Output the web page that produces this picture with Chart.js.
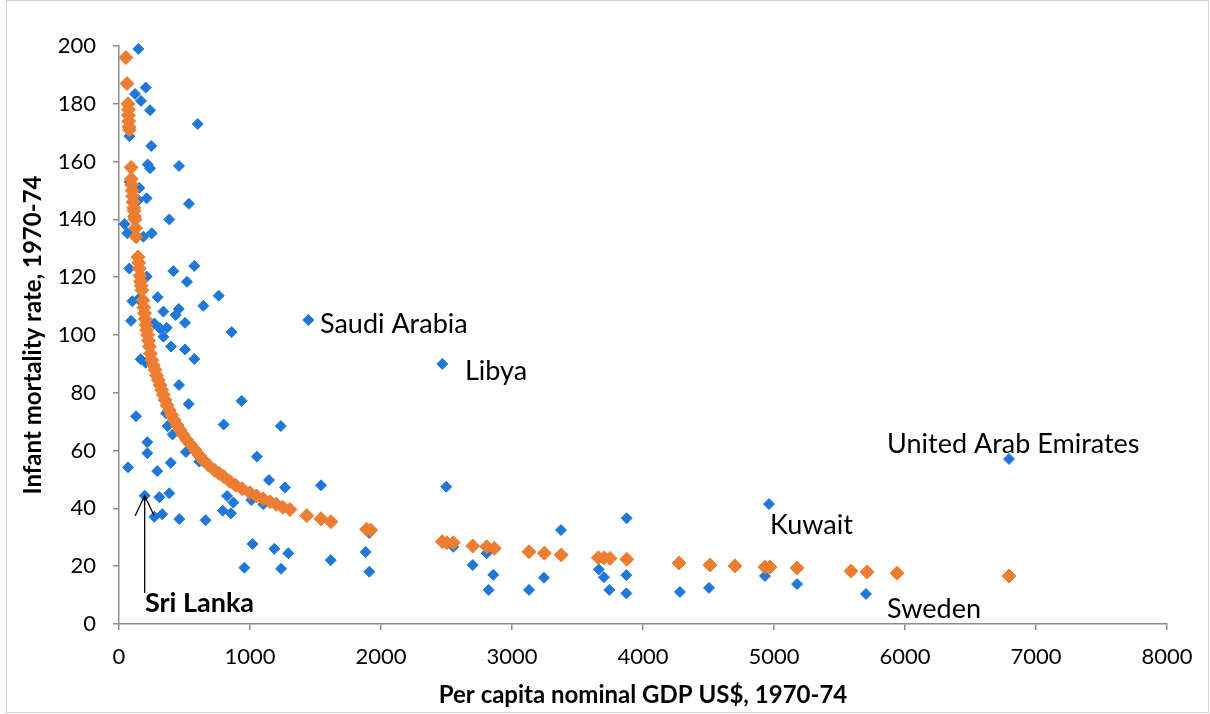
<!DOCTYPE html>
<html>
<head>
<meta charset="utf-8">
<script src="https://cdn.jsdelivr.net/npm/chart.js@4/dist/chart.umd.min.js"></script>
<style>
  html, body { margin: 0; padding: 0; background: #fff; }
  #wrap { width: 1210px; height: 714px; position: relative; }
</style>
</head>
<body>
<div id="wrap"><canvas id="c" width="1210" height="714"></canvas></div>
<script>
// Country observations: per capita GDP (US$) and infant mortality, 1970-74
const gdpCountries = [
  148, 204, 122, 168, 237, 601, 79, 246, 219, 237, 458, 155, 80, 114, 148, 211, 534, 384, 43, 64,
  104, 186, 250, 79, 211, 415, 575, 519, 295, 102, 148, 761, 644, 339, 456, 433, 92, 504, 270, 313,
  364, 860, 1445, 339, 397, 504, 575, 165, 204, 458, 936, 532, 130, 359, 371, 409, 799, 1235, 216, 216,
  511, 395, 69, 292, 613, 1053, 1145, 196, 308, 384, 270, 330, 460, 661, 825, 873, 792, 855, 1010, 1102,
  1267, 1020, 1186, 1292, 957, 1237, 2468, 1542, 2498, 1616, 1883, 1911, 1911, 2552, 2700, 2807, 2857, 2822, 3130, 3244,
  3374, 3662, 3702, 3743, 3875, 3873, 3873, 4282, 4504, 4962, 4931, 5176, 5702, 6794
];
const mortalityCountries = [
  199, 185.6, 183.4, 181, 177.8, 173, 168.8, 165.4, 159, 157.7, 158.5, 150.9, 153, 147.5, 146.7, 147.3, 145.4, 140, 138.4, 135.2,
  135.7, 134, 135.2, 123, 120.2, 122.1, 123.9, 118.4, 113.1, 111.7, 112.4, 113.6, 110.1, 108.1, 109, 106.9, 104.9, 104.2, 104, 102.3,
  102.5, 101, 105.2, 99.4, 96, 95, 91.7, 91.6, 90.4, 82.7, 77.2, 76.1, 71.9, 72.9, 68.5, 65.6, 69, 68.5, 62.9, 59.1,
  59.5, 55.8, 54.2, 52.9, 56.2, 57.9, 49.8, 44.4, 43.9, 45.2, 37.1, 38, 36.3, 35.9, 44.3, 42, 39.2, 38.3, 42.9, 41.4,
  47.2, 27.7, 26, 24.5, 19.5, 19.1, 90, 48, 47.5, 22.1, 24.9, 18.1, 31.5, 26.7, 20.4, 24.5, 17, 11.8, 11.8, 16,
  32.5, 18.9, 16.2, 11.8, 36.6, 16.9, 10.6, 11.1, 12.5, 41.5, 16.6, 13.8, 10.4, 57.1
];

// Fitted infant mortality at each GDP level
const gdpFitted = [
  53, 61, 69, 71, 72, 74, 76, 79, 92, 94, 97, 100, 104, 108, 112, 115, 118, 122, 126, 130,
  145, 150, 155, 160, 165, 170, 175, 183, 190, 195, 200, 206, 211, 218, 225, 231, 240, 250, 262, 275,
  287, 300, 313, 326, 338, 351, 367, 384, 402, 420, 443, 466, 491, 517, 548, 580, 612, 644, 682,
  730, 765, 800, 847, 890, 940, 1000, 1050, 1100, 1153, 1200, 1250, 1305,
  1433, 1542, 1618, 1890, 1921, 2468, 2502, 2552, 2700, 2807, 2865, 3130, 3247, 3376,
  3659, 3702, 3748, 3876, 4275, 4511, 4702, 4931, 4969, 5176, 5588, 5710, 5939, 6794
];
const mortalityFitted = [
  196, 187, 180, 178, 176, 174, 172, 171, 158, 154, 152, 150, 148, 146, 144, 143, 141, 140, 137, 134,
  127, 125, 123, 120.5, 118.5, 117, 115.5, 112, 109.5, 107.5, 105.5, 103.5, 101.7, 100, 98, 96, 93.5, 91.3, 89.5, 88,
  86, 84.4, 82.7, 81, 79.3, 77.5, 75.7, 74, 72.3, 70.6, 68.8, 67.1, 65.4, 63.7, 62, 60.2, 58.4, 56.7, 55,
  53.2, 52.1, 51, 49.3, 48, 46.8, 45.4, 44.3, 43.3, 42.3, 41.4, 40.4, 39.6,
  37.5, 36.4, 35.4, 32.8, 32.5, 28.5, 28.1, 28.1, 27, 26.7, 26.2, 25, 24.5, 23.9,
  22.9, 22.9, 22.7, 22.4, 21.1, 20.4, 20.1, 19.7, 19.7, 19.4, 18.3, 18, 17.6, 16.6
];

const xTicks = [0, 1000, 2000, 3000, 4000, 5000, 6000, 7000, 8000];
const yTicks = [0, 20, 40, 60, 80, 100, 120, 140, 160, 180, 200];

const xTitle = 'Per capita nominal GDP US$, 1970-74';
const yTitle = 'Infant mortality rate, 1970-74';

// Named countries: text and anchor (GDP, mortality) of the label's left-middle point
const calloutNames = ['Saudi Arabia', 'Libya', 'United Arab Emirates', 'Kuwait', 'Sweden', 'Sri Lanka'];
const calloutGdp = [1534, 2641, 5863, 4969, 5863, 198];
const calloutMortality = [103.8, 87.5, 62.3, 34.3, 5.0, 7.2];
const calloutBold = [false, false, false, false, false, true];
// Arrow from Sri Lanka's label up to its point
const arrowGdp = 196;
const arrowFrom = 10.7;
const arrowTo = 44.4;

const FONT = 'Lato, "Open Sans", sans-serif';
const AXIS = '#8c8c8c';

const calloutPlugin = {
  id: 'callouts',
  afterDatasetsDraw(chart) {
    const { ctx, scales: { x, y } } = chart;
    ctx.save();
    ctx.fillStyle = '#000';
    ctx.textAlign = 'left';
    ctx.textBaseline = 'middle';
    calloutNames.forEach((name, i) => {
      ctx.font = (calloutBold[i] ? 'bold ' : '') + '27px ' + FONT;
      ctx.fillText(name, x.getPixelForValue(calloutGdp[i]), y.getPixelForValue(calloutMortality[i]));
    });
    // arrow
    const ax = x.getPixelForValue(arrowGdp);
    const y0 = y.getPixelForValue(arrowFrom);
    const y1 = y.getPixelForValue(arrowTo);
    ctx.strokeStyle = '#000';
    ctx.lineWidth = 1.3;
    ctx.beginPath();
    ctx.moveTo(ax, y0);
    ctx.lineTo(ax, y1);
    ctx.moveTo(ax - 9.5, y1 + 20);
    ctx.lineTo(ax, y1);
    ctx.lineTo(ax + 9.5, y1 + 20);
    ctx.stroke();
    ctx.restore();
  },
  afterDraw(chart) {
    const { ctx } = chart;
    ctx.save();
    ctx.strokeStyle = '#d4d4d4';
    ctx.lineWidth = 1;
    ctx.strokeRect(6.5, 0.5, 1202, 712);
    ctx.restore();
  }
};

const toPoints = (xs, ys) => xs.map((v, i) => ({ x: v, y: ys[i] }));

new Chart(document.getElementById('c'), {
  type: 'scatter',
  data: {
    datasets: [
      {
        label: 'Fitted',
        data: toPoints(gdpFitted, mortalityFitted),
        pointStyle: 'rectRot',
        pointRadius: 7,
        backgroundColor: '#ed7d31',
        borderColor: '#ed7d31',
        borderWidth: 1,
        clip: false
      },
      {
        label: 'Countries',
        data: toPoints(gdpCountries, mortalityCountries),
        pointStyle: 'rectRot',
        pointRadius: 5.5,
        backgroundColor: '#1f78d8',
        borderColor: '#1f78d8',
        borderWidth: 1,
        clip: false
      }
    ]
  },
  options: {
    responsive: false,
    animation: false,
    devicePixelRatio: 1,
    layout: { padding: { left: 0, top: 46, right: 43, bottom: 0 } },
    plugins: { legend: { display: false }, tooltip: { enabled: false } },
    scales: {
      x: {
        type: 'linear',
        min: 0, max: 8000,
        afterBuildTicks: (s) => { s.ticks = xTicks.map(v => ({ value: v })); },
        afterFit: (s) => { s.height = 90; },
        border: { display: true, color: AXIS, width: 1.5 },
        grid: { drawOnChartArea: false, drawTicks: true, tickLength: 6, color: AXIS, lineWidth: 1.5 },
        ticks: { color: '#000', font: { family: FONT, size: 22 }, padding: 14, maxRotation: 0, callback: (v) => String(v) },
        title: { display: true, text: xTitle, color: '#000', font: { family: FONT, size: 24, weight: 'bold' }, padding: { top: 0, bottom: 4 } }
      },
      y: {
        type: 'linear',
        min: 0, max: 200,
        afterBuildTicks: (s) => { s.ticks = yTicks.map(v => ({ value: v })); },
        afterFit: (s) => { s.width = 119; },
        border: { display: true, color: AXIS, width: 1.5 },
        grid: { drawOnChartArea: false, drawTicks: true, tickLength: 6, color: AXIS, lineWidth: 1.5 },
        ticks: { color: '#000', font: { family: FONT, size: 22 }, padding: 17, callback: (v) => String(v) },
        title: { display: true, text: yTitle, color: '#000', font: { family: FONT, size: 24, weight: 'bold' }, padding: { top: 19, bottom: 0 } }
      }
    }
  },
  plugins: [calloutPlugin]
});
</script>
</body>
</html>
